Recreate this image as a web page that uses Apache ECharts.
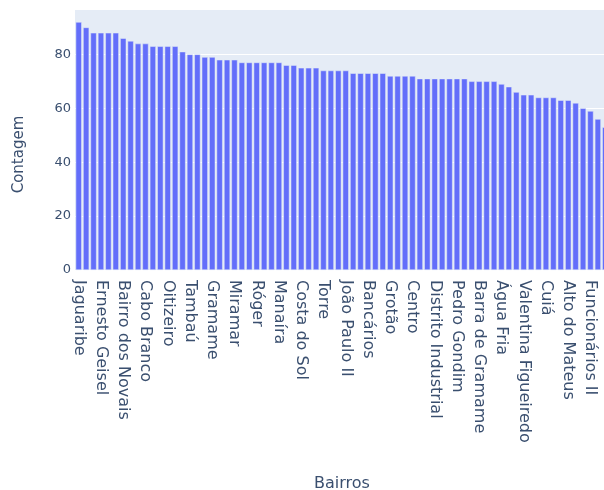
<!DOCTYPE html>
<html>
<head>
<meta charset="utf-8">
<script src="https://cdn.jsdelivr.net/npm/echarts@6/dist/echarts.min.js"></script>
<style>html,body{margin:0;padding:0;background:#fff;}#c{width:604px;height:490px;}</style>
</head>
<body>
<div id="c"></div>
<script>
const categories = [
  "Jaguaribe","Mangabeira","Cristo Redentor",
  "Ernesto Geisel","Castelo Branco","Bessa",
  "Bairro dos Novais","Altiplano Cabo Branco","Cruz das Armas",
  "Cabo Branco","José Américo","Ernani Sátiro",
  "Oitizeiro","Jardim Cidade Universitária","Mandacaru",
  "Tambaú","Padre Zé","Alto do Céu",
  "Gramame","Ilha do Bispo","Varadouro",
  "Miramar","Trincheiras","Tambiá",
  "Róger","Treze de Maio","Expedicionários",
  "Manaíra","Estados","Brisamar",
  "Costa do Sol","Tambauzinho","Jardim Oceania",
  "Torre","Aeroclube","João Agripino",
  "João Paulo II","Jardim São Paulo","Anatólia",
  "Bancários","Jardim Veneza","Costa e Silva",
  "Grotão","Muçumagro","Paratibe",
  "Centro","Planalto da Boa Esperança","Mumbaba",
  "Distrito Industrial","Colinas do Sul","Penha",
  "Pedro Gondim","Portal do Sol","Ponta do Seixas",
  "Barra de Gramame","Jardim Luna","Funcionários",
  "Água Fria","Esplanada","Mussuré",
  "Valentina Figueiredo","Bairro das Indústrias","Cidade dos Colibris",
  "Cuiá","Varjão","Jardim Planalto",
  "Alto do Mateus","Ipês","Funcionários III",
  "Funcionários II","Funcionários IV","Baixo Roger"
];
const counts = [
  92,90,88,88,88,88,86,85,84,84,83,83,83,83,81,80,80,79,79,78,78,78,
  77,77,77,77,77,77,76,76,75,75,75,74,74,74,74,73,73,73,73,73,
  72,72,72,72,71,71,71,71,71,71,71,70,70,70,70,69,68,66,65,65,
  64,64,64,63,63,62,60,59,56,53
];
const yTicks = [0,20,40,60,80];

const chart = echarts.init(document.getElementById('c'), null, {renderer:'canvas'});
const font = '"DejaVu Sans", Verdana, sans-serif';
chart.setOption({
  animation: false,
  backgroundColor: '#ffffff',
  grid: {left: 75, right: -5, top: 9, bottom: 220, show: true, backgroundColor: '#E5ECF6', borderWidth: 0, containLabel: false, outerBoundsMode: 'none'},
  xAxis: {
    type: 'category',
    data: categories,
    name: 'Bairros',
    nameLocation: 'middle',
    nameGap: 206,
    nameTextStyle: {color: '#3a4f6f', fontSize: 16, fontFamily: font},
    axisLine: {show: false},
    axisTick: {show: false},
    axisLabel: {interval: 2, rotate: -90, color: '#3a4f6f', fontSize: 16, fontFamily: font, margin: 10},
    splitLine: {show: false}
  },
  yAxis: {
    type: 'value',
    min: 0,
    max: 96.84,
    interval: 20,
    name: 'Contagem',
    nameLocation: 'middle',
    nameGap: 48,
    nameTextStyle: {color: '#3a4f6f', fontSize: 15, fontFamily: font, padding: [0, 30, 0, 0]},
    axisLine: {show: false},
    axisTick: {show: false},
    axisLabel: {color: '#3a4f6f', fontSize: 13, fontFamily: font, margin: 4,
      formatter: v => yTicks.includes(v) ? String(v) : ''},
    splitLine: {show: true, lineStyle: {color: '#ffffff', width: 1}}
  },
  series: [{
    type: 'bar',
    data: counts,
    barCategoryGap: '18%',
    itemStyle: {color: '#636EFA', borderColor: '#E5ECF6', borderWidth: 0.5}
  }]
});
</script>
</body>
</html>
